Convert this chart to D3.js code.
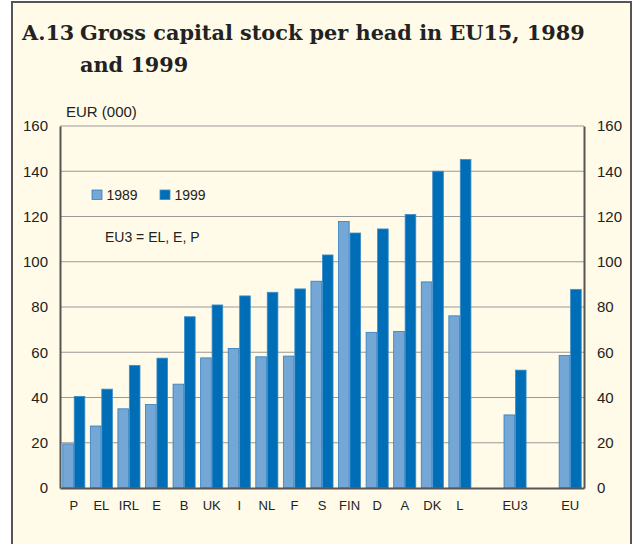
<!DOCTYPE html>
<html>
<head>
<meta charset="utf-8">
<script src="https://cdn.jsdelivr.net/npm/d3@7"></script>
<style>
  body { margin: 0; background: #fff; }
  svg { display: block; }
</style>
</head>
<body>
<script>
// data
var categories = ["P", "EL", "IRL", "E", "B", "UK", "I", "NL", "F", "S", "FIN", "D", "A", "DK", "L", "", "EU3", " ", "EU"];
var values1989 = [19.5, 27.4, 35.0, 36.9, 45.9, 57.5, 61.7, 58.0, 58.3, 91.4, 117.8, 68.8, 69.2, 91.1, 76.1, null, 32.3, null, 58.6];
var values1999 = [40.5, 43.7, 54.2, 57.4, 75.7, 80.9, 84.9, 86.5, 88.0, 103.0, 112.7, 114.5, 120.9, 140.0, 145.2, null, 52.1, null, 87.8];
var yTicks = [0, 20, 40, 60, 80, 100, 120, 140, 160];
var seriesNames = ["1989", "1999"];

var width = 639,
    height = 544,
    margin = {left: 60, right: 55, top: 126, bottom: 56};

var colors = {"1989": "#74a6d6", "1999": "#006eb6"},
    strokes = {"1989": "#2f7fc0", "1999": "#3d8ccb"};

var sans = "'Liberation Sans', Arial, sans-serif";

var svg = d3.select("body").append("svg")
    .attr("width", width)
    .attr("height", height);

// panel background + frame (open at the bottom)
svg.append("rect")
    .attr("x", 12).attr("y", 2)
    .attr("width", 619).attr("height", 560)
    .attr("fill", "#fffbe8")
    .attr("stroke", "#555")
    .attr("stroke-width", 2);

var title = svg.append("text")
    .attr("font-family", "'DejaVu Serif', serif")
    .attr("font-weight", "bold")
    .attr("font-size", 20.8)
    .attr("fill", "#222");
title.append("tspan").attr("x", 22).attr("y", 40).text("A.13");
title.append("tspan").attr("x", 80).attr("y", 40).text("Gross capital stock per head in EU15, 1989");
title.append("tspan").attr("x", 80).attr("y", 72).text("and 1999");

var x = d3.scaleBand()
    .domain(categories)
    .range([margin.left, width - margin.right])
    .paddingInner(0.17)
    .paddingOuter(0.085);

var x1 = d3.scaleBand()
    .domain(seriesNames)
    .range([0, x.bandwidth()]);

var y = d3.scaleLinear()
    .domain([0, 160])
    .range([height - margin.bottom, margin.top]);

// grid lines
svg.append("g").selectAll("line")
    .data(yTicks.slice(1))
    .enter().append("line")
    .attr("x1", margin.left).attr("x2", width - margin.right)
    .attr("y1", function(d) { return y(d); })
    .attr("y2", function(d) { return y(d); })
    .attr("stroke", "#999")
    .attr("stroke-width", 1.2);

// bars
var rows = categories.map(function(c, i) {
    return {cat: c, vals: [{s: "1989", v: values1989[i]}, {s: "1999", v: values1999[i]}]};
});

var groups = svg.append("g").selectAll("g")
    .data(rows)
    .enter().append("g")
    .attr("transform", function(d) { return "translate(" + x(d.cat) + ",0)"; });

groups.selectAll("rect")
    .data(function(d) { return d.vals.filter(function(e) { return e.v != null; }); })
    .enter().append("rect")
    .attr("x", function(d) { return x1(d.s) + 0.4; })
    .attr("width", x1.bandwidth() - 0.8)
    .attr("y", function(d) { return y(d.v); })
    .attr("height", function(d) { return y(0) - y(d.v); })
    .attr("fill", function(d) { return colors[d.s]; })
    .attr("stroke", function(d) { return strokes[d.s]; })
    .attr("stroke-width", 0.8);

// axes
var leftAxis = d3.axisLeft(y).tickValues(yTicks).tickSize(0).tickPadding(12);
var rightAxis = d3.axisRight(y).tickValues(yTicks).tickSize(0).tickPadding(13);

var gl = svg.append("g")
    .attr("transform", "translate(" + margin.left + ",0)")
    .call(leftAxis);
var gr = svg.append("g")
    .attr("transform", "translate(" + (width - margin.right) + ",0)")
    .call(rightAxis);

[gl, gr].forEach(function(g) {
    g.select(".domain").attr("stroke", "#555").attr("stroke-width", 2);
    g.selectAll("text")
        .attr("font-family", sans)
        .attr("font-size", 15)
        .attr("fill", "#222");
});

var gb = svg.append("g")
    .attr("transform", "translate(0," + y(0) + ")")
    .call(d3.axisBottom(x).tickSize(0).tickPadding(13));
gb.select(".domain").attr("stroke", "#555").attr("stroke-width", 2);
gb.selectAll("text")
    .attr("font-family", sans)
    .attr("font-size", 13)
    .attr("fill", "#222");

svg.append("text")
    .attr("x", 66).attr("y", 117)
    .attr("font-family", sans)
    .attr("font-size", 15)
    .attr("fill", "#222")
    .text("EUR (000)");

// legend
var legend = svg.append("g").selectAll("g")
    .data(seriesNames)
    .enter().append("g")
    .attr("transform", function(d, i) { return "translate(" + (92 + i * 68) + ",190)"; });
legend.append("rect")
    .attr("width", 10).attr("height", 9.5)
    .attr("fill", function(d) { return colors[d]; })
    .attr("stroke", function(d) { return strokes[d]; })
    .attr("stroke-width", 0.8);
legend.append("text")
    .attr("x", 14.5).attr("y", 10)
    .attr("font-family", sans)
    .attr("font-size", 14)
    .attr("fill", "#222")
    .text(function(d) { return d; });

svg.append("text")
    .attr("x", 105).attr("y", 242)
    .attr("font-family", sans)
    .attr("font-size", 14)
    .attr("fill", "#222")
    .text("EU3 = EL, E, P");
</script>
</body>
</html>
